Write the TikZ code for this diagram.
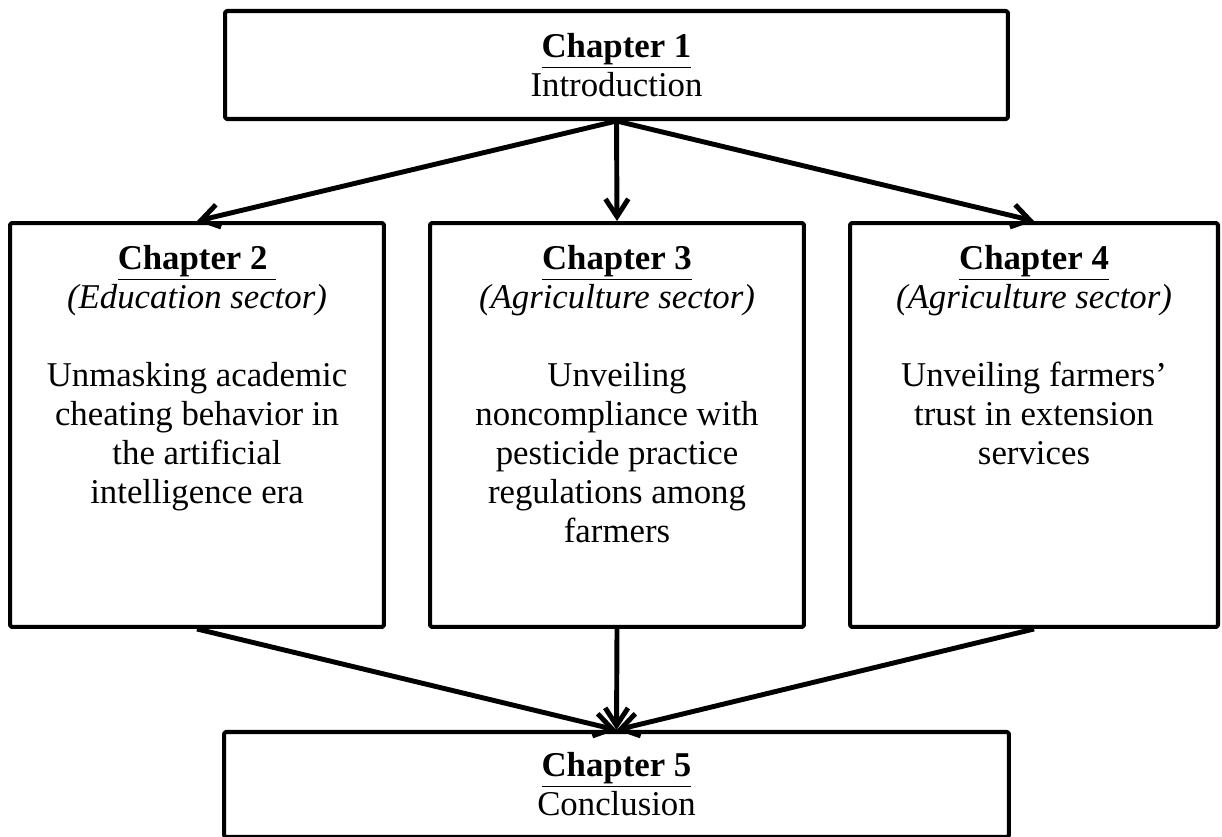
\documentclass[tikz,border=0pt]{standalone}
\usepackage{fontspec}
\setmainfont{Liberation Serif}
\usetikzlibrary{arrows.meta}

\begin{document}
\begin{tikzpicture}[x=0.02cm,y=-0.02cm,line join=round,
    box/.style={draw,line width=2.3pt,rounded corners=1pt,inner sep=0pt},
    txt/.style={align=center,inner sep=0pt,font=\fontsize{19.8}{22.2}\selectfont},
    arr/.style={line width=2.8pt,-{Straight Barb[length=10pt,width=13pt]}}]
    % fix the size of the page
    \useasboundingbox (0,0) rectangle (1222,837);

    % draw the boxes
    \node[box,minimum width=15.66cm,minimum height=2.16cm] (ch1) at (616.5,65) {};
    \node[box,minimum width=7.48cm,minimum height=8.08cm] (ch2) at (197,425) {};
    \node[box,minimum width=7.48cm,minimum height=8.08cm] (ch3) at (617,425) {};
    \node[box,minimum width=7.36cm,minimum height=8.08cm] (ch4) at (1034,425) {};
    \node[box,minimum width=15.7cm,minimum height=2.1cm] (ch5) at (616.5,784.5) {};

    % the texts of the boxes
    \node[txt] (ch1txt) at (ch1) {\underline{\textbf{Chapter 1}}\\Introduction};
    \node[txt,anchor=north] (ch2txt) at (197,245)
        {\underline{\textbf{Chapter 2}\ }\\\textit{(Education sector)}\\[22.2pt]
         Unmasking academic\\cheating behavior in\\the artificial\\intelligence era};
    \node[txt,anchor=north] (ch3txt) at (617,245)
        {\underline{\textbf{Chapter 3}}\\\textit{(Agriculture sector)}\\[22.2pt]
         Unveiling\\noncompliance with\\pesticide practice\\regulations among\\farmers};
    \node[txt,anchor=north] (ch4txt) at (1034,245)
        {\underline{\textbf{Chapter 4}}\\\textit{(Agriculture sector)}\\[22.2pt]
         Unveiling farmers’\\trust in extension\\services};
    \node[txt] (ch5txt) at (ch5) {\underline{\textbf{Chapter 5}}\\Conclusion};

    % arrows from the introduction
    \foreach \x in {ch2,ch3,ch4}
        \draw[arr] (ch1.south) -- (\x.north);

    % arrows to the conclusion
    \foreach \x in {ch2,ch3,ch4}
        \draw[arr] (\x.south) -- (ch5.north);
\end{tikzpicture}
\end{document}
